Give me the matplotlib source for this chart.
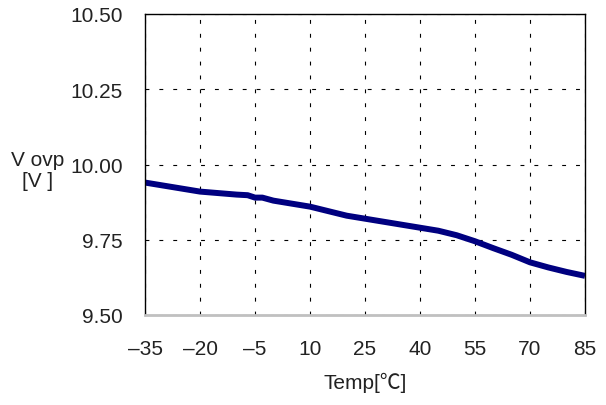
import matplotlib
matplotlib.use("Agg")
import matplotlib.pyplot as plt

plt.rcParams['font.family'] = ['Liberation Sans', 'Noto Sans CJK KR', 'DejaVu Sans']

temp = [-35, -30, -25, -20, -15, -10, -7, -5, -3, 0, 5, 10, 15, 20, 25, 30,
        35, 40, 45, 50, 55, 60, 65, 70, 75, 80, 85]
vovp = [9.94, 9.93, 9.92, 9.91, 9.905, 9.90, 9.898, 9.89, 9.89, 9.88, 9.87,
        9.86, 9.845, 9.83, 9.82, 9.81, 9.80, 9.79, 9.78, 9.765, 9.745, 9.722,
        9.70, 9.675, 9.658, 9.643, 9.63]

xticks = [-35, -20, -5, 10, 25, 40, 55, 70, 85]
xticklabels = ['\u201335', '\u201320', '\u20135', '10', '25', '40', '55', '70', '85']
yticks = [9.50, 9.75, 10.00, 10.25, 10.50]

fig = plt.figure(figsize=(6.06, 4.06), dpi=100)
ax = fig.add_axes([145 / 606, 1 - 316 / 406, 440 / 606, 301 / 406])

ax.plot(temp, vovp, color='#000080', linewidth=4.3, solid_capstyle='butt')

ax.set_xlim(-35, 85)
ax.set_ylim(9.5, 10.5)
ax.set_xticks(xticks)
ax.set_xticklabels(xticklabels)
ax.set_yticks(yticks)
ax.set_yticklabels(['%.2f' % v for v in yticks])
ax.tick_params(length=0, labelsize=15, labelcolor='#222222')
ax.tick_params(axis='x', pad=17)
ax.tick_params(axis='y', pad=16)

ax.grid(True, color='black', linestyle=(0, (3.5, 9)), linewidth=0.8)
for s in ['left', 'top', 'right']:
    ax.spines[s].set_color('black')
    ax.spines[s].set_linewidth(1)
ax.spines['bottom'].set_color('#c0c0c0')
ax.spines['bottom'].set_linewidth(2)

ax.set_xlabel('Temp[\u2103]', fontsize=15, labelpad=10, color='#222222')
fig.text(38 / 606, 1 - 171 / 406, 'V ovp\n[V ]', fontsize=15, ha='center',
         va='center', linespacing=1.15, color='#222222')

fig.savefig('out.png', dpi=100)
